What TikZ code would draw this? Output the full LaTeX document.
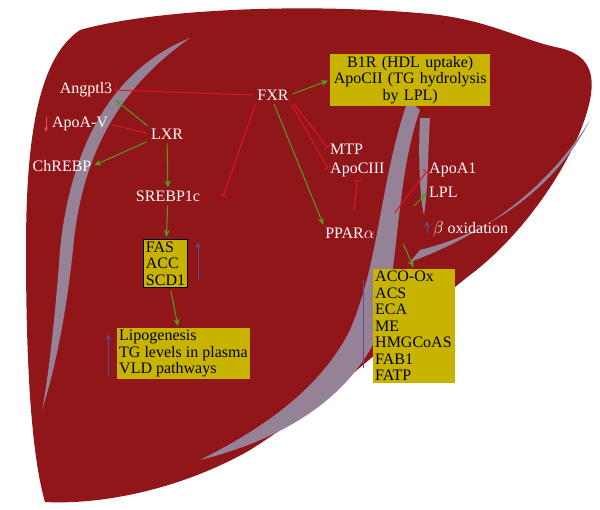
\documentclass[tikz,border=0pt]{standalone}
\usepackage{fontspec}
\setmainfont{Liberation Serif}
\usetikzlibrary{arrows.meta}
\definecolor{liver}{RGB}{145,22,26}
\definecolor{stripe}{RGB}{150,130,150}
\definecolor{boxy}{RGB}{200,180,0}
\definecolor{gar}{RGB}{80,160,30}
\definecolor{rar}{RGB}{225,20,35}
\definecolor{par}{RGB}{90,80,150}
\tikzset{
 lbl/.style={text=white!92!pink,font=\fontsize{16}{18}\selectfont,inner sep=1pt},
 ybox/.style={fill=boxy,font=\fontsize{16}{16.5}\selectfont,align=left,inner sep=2pt,anchor=north west},
 act/.style={draw=gar,line width=1pt,shorten <=3pt,shorten >=2pt,-{Stealth[length=7pt,width=6pt]}},
 inh/.style={draw=rar,line width=1pt,shorten <=3pt,shorten >=2pt,-{Bar[width=8pt]}},
 upar/.style={draw=par,line width=1pt,-{Stealth[length=6pt,width=5pt]}}
}
\begin{document}
\begin{tikzpicture}[x=1pt,y=-1pt]
\useasboundingbox (0,0) rectangle (600,509);
% liver
\fill[liver] (80,30) .. controls (150,10) and (300,2) .. (430,14)
 .. controls (490,20) and (520,40) .. (560,48)
 .. controls (590,55) and (595,75) .. (590,100)
 .. controls (580,150) and (530,230) .. (470,275)
 .. controls (400,330) and (330,400) .. (250,450)
 .. controls (180,490) and (100,505) .. (45,502)
 .. controls (30,450) and (26,350) .. (26,250)
 .. controls (26,150) and (35,60) .. (80,30) -- cycle;
% stripes
\fill[stripe] (190,38) .. controls (110,70) and (70,150) .. (60,250)
 .. controls (55,320) and (48,380) .. (42,410)
 .. controls (58,360) and (68,300) .. (74,240)
 .. controls (85,140) and (130,80) .. (190,38) -- cycle;
\fill[stripe] (408,100) .. controls (380,180) and (380,260) .. (350,330)
 .. controls (320,390) and (260,430) .. (200,460)
 .. controls (280,440) and (350,400) .. (380,330)
 .. controls (400,270) and (395,180) .. (420,110) -- cycle;
\fill[stripe] (410,262) .. controls (470,240) and (540,200) .. (590,120)
 .. controls (560,180) and (500,230) .. (420,250) -- cycle;
\fill[stripe] (420,118) .. controls (418,160) and (420,200) .. (424,215)
 .. controls (428,190) and (428,150) .. (430,118) -- cycle;
% nodes
\node[lbl] (ang) at (86,90) {Angptl3};
\node[lbl] (apoav) at (80,124) {ApoA-V};
\node[lbl] (lxr) at (167,134) {LXR};
\node[lbl] (chr) at (62,166) {ChREBP};
\node[lbl] (srebp) at (168,196) {SREBP1c};
\node[ybox,draw=black,line width=1pt,minimum width=44pt] (fas) at (143,239) {FAS\\ACC\\SCD1};
\node[ybox] (lipo) at (117,328) {Lipogenesis\\TG levels in plasma\\VLD pathways};
\node[lbl] (fxr) at (273,95) {FXR};
\node[ybox,align=center,text width=156pt] (b1r) at (330,54) {B1R (HDL uptake)\\ApoCII (TG hydrolysis\\by LPL)};
\node[lbl,anchor=west] (mtp) at (329,149) {MTP};
\node[lbl,anchor=west] (apoc) at (329,170) {ApoCIII};
\node[lbl,anchor=west] (apoa1) at (428,170) {ApoA1};
\node[lbl,anchor=west] (lpl) at (428,192) {LPL};
\node[lbl,anchor=west] (beta) at (432,229) {$\beta$ oxidation};
\node[lbl] (ppar) at (350,233) {PPAR$\alpha$};
\node[ybox,text width=78pt] (aco) at (373,269) {ACO-Ox\\ACS\\ECA\\ME\\HMGCoAS\\FAB1\\FATP};
% connectors
\draw[inh] (fxr.west) -- (ang.east);
\draw[act] (lxr.north west) -- (ang.south east);
\draw[rar,line width=1pt,shorten <=3pt,shorten >=3pt] (lxr.west) -- (apoav.east);
\draw[act] (lxr.south west) -- (chr.east);
\draw[act] (lxr) -- (srebp);
\draw[act] (srebp) -- (fas);
\draw[act] (fas) -- (lipo);
\draw[inh,shorten >=4pt] (fxr.south west) -- (222,200);
\draw[act] (fxr.south) -- (ppar.north west);
\draw[inh] ([xshift=2pt]fxr.south east) -- (mtp.west);
\draw[inh] (fxr.south east) -- (apoc.west);
\draw[act] (fxr.east) -- (b1r.west);
\draw[inh] (354,213) coordinate (pa) -- (apoc.south);
\draw[inh] (393,215) coordinate (pb) -- (apoa1.west);
\draw[act] (412,208) coordinate (pc) -- (lpl.west);
\draw[act] (402,241) coordinate (pd) -- (aco.north);
% up/down arrows
\coordinate (u1) at (198,280); \coordinate (u1e) at (198,242);
\draw[upar] (u1) -- (u1e);
\coordinate (u2) at (108,376); \coordinate (u2e) at (108,334);
\draw[upar] (u2) -- (u2e);
\coordinate (u3) at (427,233); \coordinate (u3e) at (427,221);
\draw[upar] (u3) -- (u3e);
\coordinate (u4) at (363,368); \coordinate (u4e) at (363,280);
\draw[par,line width=1pt] (u4) -- (u4e);
\coordinate (d1) at (46,117); \coordinate (d1e) at (46,132);
\draw[rar!70!pink,line width=1pt,-{Stealth[length=5pt,width=4pt]}] (d1) -- (d1e);
\end{tikzpicture}
\end{document}
